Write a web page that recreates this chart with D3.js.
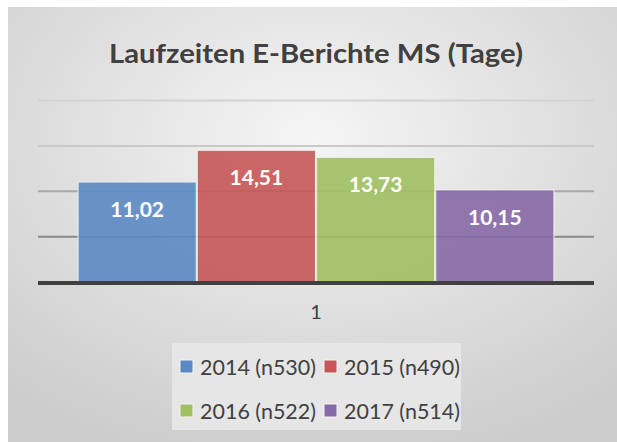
<!DOCTYPE html>
<html>
<head>
<meta charset="utf-8">
<script src="https://cdn.jsdelivr.net/npm/d3@7"></script>
<style>
  body { margin: 0; background: #fff; }
  svg { display: block; }
  text { font-family: Lato, "Open Sans", sans-serif; }
</style>
</head>
<body>
<svg id="chart" width="617" height="442"></svg>
<script>
// data
const categories = ["1"];
const seriesNames = ["2014 (n530)", "2015 (n490)", "2016 (n522)", "2017 (n514)"];
const seriesValues = [11.02, 14.51, 13.73, 10.15];
const yTicks = [0, 5, 10, 15, 20];
const colors = ["#5b89c3", "#c65756", "#9fbf61", "#8669a6"];

const svg = d3.select("#chart");
const W = 617, H = 442;

// background with soft radial gradient
const defs = svg.append("defs");
const grad = defs.append("radialGradient")
  .attr("id", "bg")
  .attr("cx", "50%").attr("cy", "30%").attr("r", "75%");
grad.append("stop").attr("offset", "0%").attr("stop-color", "#f5f5f5");
grad.append("stop").attr("offset", "100%").attr("stop-color", "#cdcdcd");

svg.append("rect")
  .attr("x", 8).attr("y", 7)
  .attr("width", W - 8).attr("height", H - 7)
  .attr("fill", "url(#bg)");

// title
svg.append("text")
  .attr("x", 316).attr("y", 63)
  .attr("text-anchor", "middle")
  .attr("font-size", 27)
  .attr("font-weight", "bold")
  .attr("fill", "#404040")
  .attr("textLength", 414)
  .attr("lengthAdjust", "spacingAndGlyphs")
  .text("Laufzeiten E-Berichte MS (Tage)");

const margin = {left: 38, right: 23, top: 100, bottom: 160};
const x0 = d3.scaleBand().domain(categories).range([margin.left, W - margin.right]).paddingInner(0).paddingOuter(0.083);
const x1 = d3.scaleBand().domain(seriesNames).range([0, x0.bandwidth()]).padding(0);
const y = d3.scaleLinear().domain([0, 20]).range([282, 100.5]);

// gridlines, getting darker towards the bottom
const gridColors = {5: "#8a8a8a", 10: "#a9a9a9", 15: "#c9c9c9", 20: "#d3d3d3"};
svg.append("g")
  .selectAll("line")
  .data(yTicks.filter(d => d > 0))
  .join("line")
    .attr("x1", margin.left).attr("x2", W - margin.right)
    .attr("y1", d => y(d)).attr("y2", d => y(d))
    .attr("stroke", d => gridColors[d])
    .attr("stroke-width", 2);

// bars
const bars = svg.append("g")
  .selectAll("g")
  .data(categories)
  .join("g")
    .attr("transform", d => `translate(${x0(d)},0)`);

const barData = seriesNames.map((s, i) => ({name: s, value: seriesValues[i], color: colors[i]}));

bars.selectAll("rect")
  .data(barData)
  .join("rect")
    .attr("x", d => x1(d.name) + 0.5)
    .attr("y", d => y(d.value))
    .attr("width", x1.bandwidth() - 1)
    .attr("height", d => y(0) - y(d.value))
    .attr("fill", d => d.color)
    .attr("fill-opacity", 0.9)
    .attr("stroke", "#f4f4f4")
    .attr("stroke-opacity", 0.8)
    .attr("stroke-width", 1.2);

bars.selectAll("text")
  .data(barData)
  .join("text")
    .attr("x", d => x1(d.name) + x1.bandwidth() / 2)
    .attr("y", d => y(d.value) + 35)
    .attr("text-anchor", "middle")
    .attr("font-size", 21)
    .attr("font-weight", "bold")
    .attr("fill", "#ffffff")
    .text(d => d3.format(".2f")(d.value).replace(".", ","));

// baseline
svg.append("line")
  .attr("x1", margin.left).attr("x2", W - margin.right)
  .attr("y1", y(0) + 1).attr("y2", y(0) + 1)
  .attr("stroke", "#404040")
  .attr("stroke-width", 4);

// category axis
const xAxis = svg.append("g")
  .attr("transform", `translate(0,${y(0) + 3})`)
  .call(d3.axisBottom(x0).tickSize(0).tickPadding(20));
xAxis.select(".domain").remove();
xAxis.selectAll("text")
  .attr("font-size", 20)
  .attr("fill", "#404040")
  .style("font-family", "Lato, sans-serif");

// legend
const legend = svg.append("g");
legend.append("rect")
  .attr("x", 172).attr("y", 343)
  .attr("width", 289).attr("height", 87)
  .attr("fill", "#e6e6e6");

const legendItems = legend.selectAll("g")
  .data(barData)
  .join("g")
    .attr("transform", (d, i) => `translate(${180 + (i % 2) * 144},${367 + Math.floor(i / 2) * 44})`);

legendItems.append("rect")
  .attr("x", 0).attr("y", -7)
  .attr("width", 13).attr("height", 13)
  .attr("fill", d => d.color)
  .attr("stroke", "#f4f4f4")
  .attr("stroke-width", 1);

legendItems.append("text")
  .attr("x", 20).attr("y", 8)
  .attr("font-size", 21)
  .attr("fill", "#404040")
  .attr("textLength", 116)
  .attr("lengthAdjust", "spacingAndGlyphs")
  .text(d => d.name);
</script>
</body>
</html>
